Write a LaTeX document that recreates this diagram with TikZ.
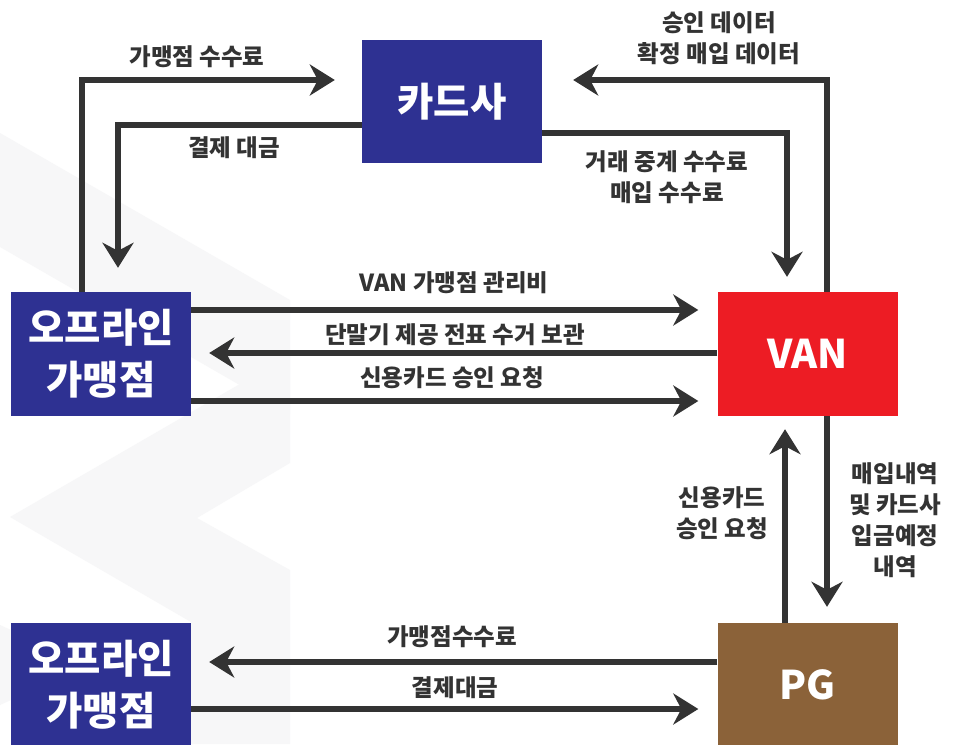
\documentclass[tikz,border=0pt]{standalone}
\usepackage{fontspec}
\setmainfont{Noto Sans CJK KR}
\usetikzlibrary{arrows.meta}
\definecolor{arrgray}{RGB}{51,51,51}
\definecolor{cardblue}{RGB}{46,49,146}
\definecolor{vanred}{RGB}{237,28,36}
\definecolor{pgbrown}{RGB}{139,98,57}
\definecolor{bgshape}{RGB}{247,247,248}
\tikzset{
  boxnode/.style={draw=none, minimum width=180pt, minimum height=124pt, inner sep=0pt,
    text=white, align=center, font=\fontsize{39.5}{52}\selectfont\bfseries},
  lbl/.style={text=arrgray, align=center, inner sep=0pt,
    font=\fontsize{23.5}{31}\selectfont\bfseries},
  arr/.style={draw=arrgray, line width=6pt,
    -{Stealth[length=25pt,width=31pt,inset=8pt]}}
}
\begin{document}
\begin{tikzpicture}[x=1pt,y=-1pt]
\useasboundingbox (0,0) rectangle (957,744);
\fill[white] (0,0) rectangle (957,744);
% faint background shapes
\fill[bgshape] (0,133) -- (290,300) -- (290,414) -- (0,247) -- cycle;
\fill[bgshape] (10,517) -- (290,355) -- (290,463) -- (197,518) -- (290,570) -- (290,744) -- (191,744) -- (191,622) -- cycle;
\fill[bgshape] (0,625) -- (11,630) -- (11,700) -- (0,705) -- cycle;

% nodes
\node[boxnode, fill=cardblue, minimum height=123pt] (card) at (452,101.5) {카드사};
\node[boxnode, fill=vanred] (van) at (807.5,354) {VAN};
\node[boxnode, fill=pgbrown] (pg) at (807.5,685) {PG};
\node[boxnode, fill=cardblue] (off1) at (101,354) {오프라인\\가맹점};
\node[boxnode, fill=cardblue] (off2) at (101,685) {오프라인\\가맹점};

% top-left loop
\draw[arr] ([xshift=-19pt]off1.north) |- ([xshift=-27pt,yshift=21.5pt]card.west);
\draw[arr] ([yshift=-23.5pt]card.west) -| ([xshift=17pt,yshift=24pt]off1.north);
% top-right loop
\draw[arr] ([xshift=19.5pt]van.north) |- ([xshift=31pt,yshift=21.5pt]card.east);
\draw[arr] ([yshift=-31.5pt]card.east) -| ([xshift=-20.5pt,yshift=15pt]van.north);
% middle
\draw[arr] ([yshift=44pt]off1.east) -- ([xshift=-19pt,yshift=44pt]van.west);
\draw[arr] ([yshift=1pt]van.west) -- ([xshift=18pt,yshift=1pt]off1.east);
\draw[arr] ([yshift=-47pt]off1.east) -- ([xshift=-19pt,yshift=-47pt]van.west);
% VAN <-> PG
\draw[arr] ([xshift=-22.5pt]pg.north) -- ([xshift=-22.5pt,yshift=-13pt]van.south);
\draw[arr] ([xshift=19.5pt]van.south) -- ([xshift=19.5pt,yshift=16pt]pg.north);
% bottom
\draw[arr] ([yshift=23pt]pg.west) -- ([xshift=18pt,yshift=23pt]off2.east);
\draw[arr] ([yshift=-24pt]off2.east) -- ([xshift=-19pt,yshift=-24pt]pg.west);

% labels
\node[lbl] (l1) at (197,57) {가맹점 수수료};
\node[lbl] (l2) at (234,148) {결제 대금};
\node[lbl] (l3) at (719,38) {승인 데이터\\확정 매입 데이터};
\node[lbl] (l4) at (667,177) {거래 중계 수수료\\매입 수수료};
\node[lbl] (l5) at (454,283) {VAN 가맹점 관리비};
\node[lbl] (l6) at (455,335) {단말기 제공 전표 수거 보관};
\node[lbl] (l7) at (452,378) {신용카드 승인 요청};
\node[lbl] (l8) at (722,513) {신용카드\\승인 요청};
\node[lbl] (l9) at (895,520) {매입내역\\및 카드사\\입금예정\\내역};
\node[lbl] (l10) at (452,637) {가맹점수수료};
\node[lbl] (l11) at (455,688) {결제대금};
\end{tikzpicture}
\end{document}
